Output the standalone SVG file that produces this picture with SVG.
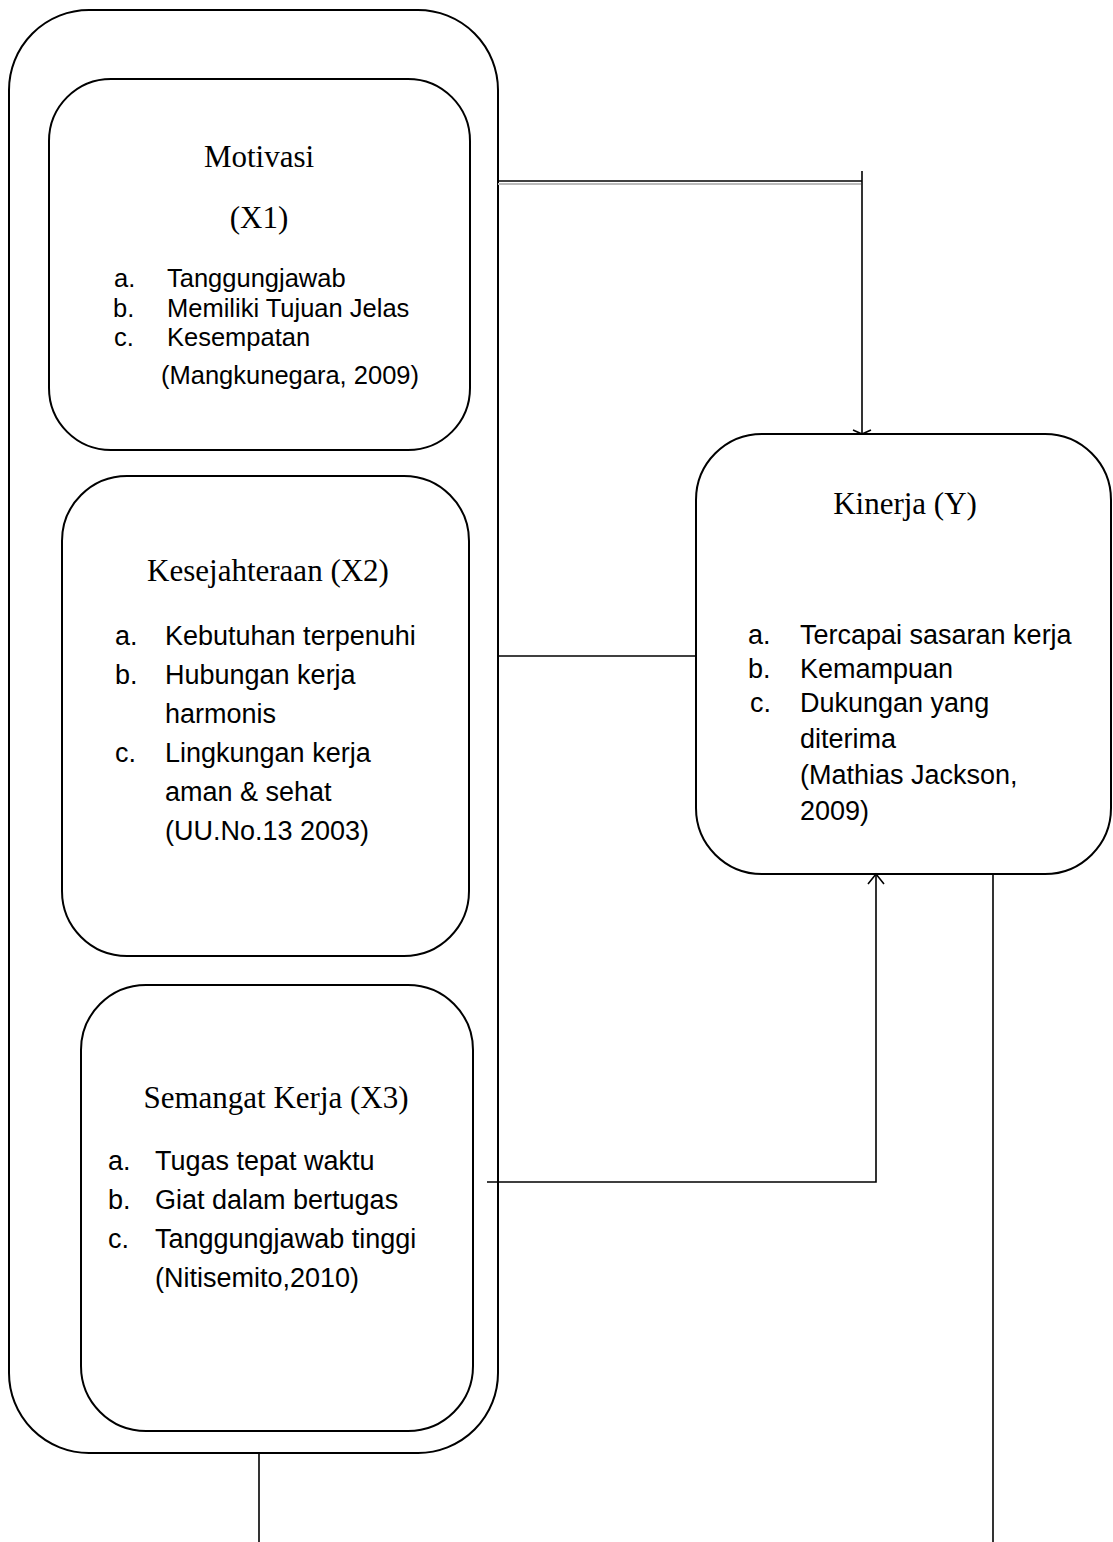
<svg xmlns="http://www.w3.org/2000/svg" width="1113" height="1542" viewBox="0 0 1113 1542">
<style>
.box{fill:none;stroke:#000;stroke-width:2}
.con{fill:none;stroke:#000;stroke-width:1.6}
.t{font-family:"Liberation Serif","Times New Roman",serif;font-size:31px;fill:#000;text-anchor:middle}
.l{font-family:"Liberation Sans",Arial,sans-serif;font-size:27px;fill:#000}
.s{font-size:25.5px}
</style>
<rect width="1113" height="1542" fill="#fff"/>
<g id="outer"><rect class="box" x="9" y="10" width="489" height="1443" rx="80"/></g>
<g id="x1">
<rect class="box" x="49" y="79" width="421" height="371" rx="62"/>
<text class="t" x="259" y="167">Motivasi</text>
<text class="t" x="259" y="228">(X1)</text>
<text class="l s" x="114" y="287">a.</text><text class="l s" x="167" y="287">Tanggungjawab</text>
<text class="l s" x="113" y="317">b.</text><text class="l s" x="167" y="317">Memiliki Tujuan Jelas</text>
<text class="l s" x="114" y="346">c.</text><text class="l s" x="167" y="346">Kesempatan</text>
<text class="l s" x="161" y="384">(Mangkunegara, 2009)</text>
</g>
<g id="x2">
<rect class="box" x="62" y="476" width="407" height="480" rx="65"/>
<text class="t" x="268" y="581">Kesejahteraan (X2)</text>
<text class="l" x="115" y="645">a.</text><text class="l" x="165" y="645">Kebutuhan terpenuhi</text>
<text class="l" x="115" y="684">b.</text><text class="l" x="165" y="684">Hubungan kerja</text>
<text class="l" x="165" y="723">harmonis</text>
<text class="l" x="115" y="762">c.</text><text class="l" x="165" y="762">Lingkungan kerja</text>
<text class="l" x="165" y="801">aman &amp; sehat</text>
<text class="l" x="165" y="840">(UU.No.13 2003)</text>
</g>
<g id="x3">
<rect class="box" x="81" y="985" width="392" height="446" rx="65"/>
<text class="t" x="276" y="1108">Semangat Kerja (X3)</text>
<text class="l" x="108" y="1170">a.</text><text class="l" x="155" y="1170">Tugas tepat waktu</text>
<text class="l" x="108" y="1209">b.</text><text class="l" x="155" y="1209">Giat dalam bertugas</text>
<text class="l" x="108" y="1248">c.</text><text class="l" x="155" y="1248">Tanggungjawab tinggi</text>
<text class="l" x="155" y="1287">(Nitisemito,2010)</text>
</g>
<g id="y">
<rect class="box" x="696" y="434" width="415" height="440" rx="66"/>
<text class="t" x="905" y="514">Kinerja (Y)</text>
<text class="l" x="748" y="644">a.</text><text class="l" x="800" y="644">Tercapai sasaran kerja</text>
<text class="l" x="748" y="678">b.</text><text class="l" x="800" y="678">Kemampuan</text>
<text class="l" x="750" y="712">c.</text><text class="l" x="800" y="712">Dukungan yang</text>
<text class="l" x="800" y="748">diterima</text>
<text class="l" x="800" y="784">(Mathias Jackson,</text>
<text class="l" x="800" y="820">2009)</text>
</g>
<g id="connectors">
<line x1="498" y1="184" x2="861" y2="184" stroke="#bbb" stroke-width="2"/>
<line class="con" x1="498" y1="181" x2="862" y2="181"/>
<line class="con" x1="862" y1="171" x2="862" y2="434"/>
<polyline class="con" points="853,430 862,434 871,430"/>
<line class="con" x1="498" y1="656" x2="696" y2="656"/>
<polyline class="con" points="487,1182 876,1182 876,874"/>
<polyline class="con" points="868,884 876,874 884,884"/>
<line class="con" x1="993" y1="874" x2="993" y2="1542"/>
<line class="con" x1="259" y1="1453" x2="259" y2="1542"/>
</g>
</svg>
